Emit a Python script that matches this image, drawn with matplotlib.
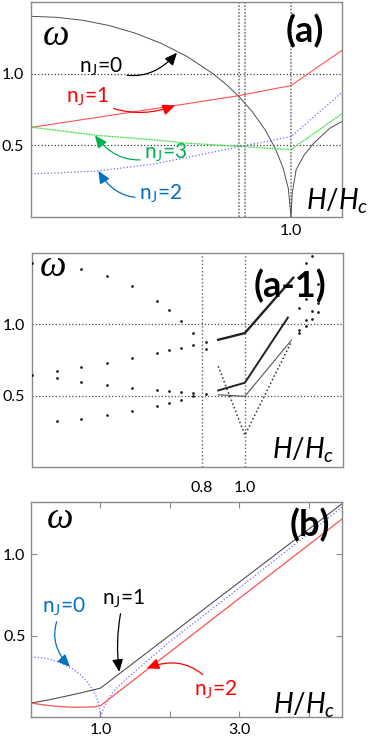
import matplotlib
matplotlib.use("Agg")
import matplotlib.pyplot as plt

plt.rcParams['font.family'] = ['Lato', 'DejaVu Sans']
plt.rcParams['mathtext.fontset'] = 'custom'
plt.rcParams['mathtext.it'] = 'Lato:italic'
plt.rcParams['mathtext.rm'] = 'Lato'

# ---- panel (a): model curves
h0a = [0, 0.1, 0.2, 0.3, 0.4, 0.5, 0.6, 0.7, 0.75, 0.8, 0.85, 0.9, 0.94, 0.97, 0.99, 1.0,
       1.005, 1.02, 1.05, 1.085, 1.12, 1.15, 1.2]
w0a = [1.40, 1.393, 1.372, 1.336, 1.283, 1.212, 1.12, 1.0, 0.926, 0.84, 0.737, 0.61, 0.477,
       0.341, 0.197, 0.0, 0.17, 0.33, 0.43, 0.51, 0.57, 0.62, 0.67]
h1a = [0, 0.2, 0.4, 0.6, 0.8, 1.0, 1.2]
w1a = [0.625, 0.68, 0.735, 0.79, 0.847, 0.917, 1.167]
h2a = [0, 0.25, 0.46, 0.6, 0.8, 1.0, 1.2]
w2a = [0.30, 0.32, 0.366, 0.415, 0.49, 0.56, 0.875]
h3a = [0, 0.25, 0.46, 0.6, 0.8, 1.0, 1.2]
w3a = [0.627, 0.57, 0.54, 0.515, 0.493, 0.47, 0.725]
vlines_a = [0.8, 0.823, 1.0]

# ---- panel (a-1): numerical points
dot_h = [0.012, 0.012,
         0.127, 0.127, 0.127,
         0.24, 0.24, 0.24, 0.24,
         0.357, 0.357, 0.357, 0.357,
         0.474, 0.474, 0.474, 0.474,
         0.589, 0.589, 0.589, 0.589,
         0.647, 0.647, 0.647, 0.647,
         0.702, 0.702, 0.702, 0.702,
         0.761, 0.761, 0.761, 0.761,
         0.82, 0.82, 0.82,
         1.31, 1.284, 1.341, 1.284, 1.338, 1.251, 1.31, 1.341, 1.31, 1.284, 1.284, 1.251, 1.251]
dot_w = [1.427, 0.647,
         0.677, 0.624, 0.325,
         1.388, 0.70, 0.598, 0.342,
         1.339, 0.733, 0.577, 0.367,
         1.265, 0.766, 0.557, 0.395,
         1.161, 0.80, 0.538, 0.428,
         1.098, 0.818, 0.533, 0.45,
         1.024, 0.837, 0.526, 0.473,
         0.936, 0.855, 0.517, 0.497,
         0.876, 0.829, 0.512,
         1.48, 1.43, 1.283, 1.175, 1.151, 1.117, 1.094, 1.089, 1.036, 1.029, 0.99, 0.96, 0.936]
up_h = [0.876, 0.93, 1.0, 1.225]
up_w = [0.892, 0.912, 0.939, 1.325]
mid_h = [0.876, 1.0, 1.2]
mid_w = [0.538, 0.592, 1.047]
low_h = [0.876, 1.0, 1.217]
low_w = [0.508, 0.497, 0.89]
v_h = [0.876, 1.0, 1.217]
v_w = [0.707, 0.226, 0.88]

# ---- panel (b)
h0b = [0, 0.2, 0.4, 0.6, 0.7, 0.8, 0.9, 0.95, 0.98, 1.0]
w0b = [0.37, 0.3625, 0.339, 0.296, 0.264, 0.222, 0.161, 0.116, 0.074, 0.0]
h0b_hi = [1.0, 1.05, 1.1, 1.2, 1.4, 2.0, 3.0, 4.0, 4.5]
w0b_hi = [0.0, 0.06, 0.10, 0.165, 0.245, 0.465, 0.795, 1.13, 1.30]
h1b = [0, 0.25, 0.5, 0.75, 1.0, 4.5]
w1b = [0.086, 0.105, 0.128, 0.152, 0.178, 1.32]
h2b = [0, 0.3, 0.6, 0.9, 1.0, 4.5]
w2b = [0.086, 0.068, 0.06, 0.062, 0.07, 1.226]

RED = '#ff0000'
GREEN = '#00b050'
BLUE = '#0070c0'
SPINE = '#8a8a8a'

fig = plt.figure(figsize=(3.71, 7.37), dpi=100)
axa = fig.add_axes([0.0836, 0.7056, 0.838, 0.2917])
axc = fig.add_axes([0.0863, 0.3657, 0.838, 0.2914])
axb = fig.add_axes([0.0836, 0.0271, 0.839, 0.2922])

for ax in (axa, axc, axb):
    for s in ax.spines.values():
        s.set_color(SPINE)
        s.set_linewidth(1.0)
    ax.tick_params(labelsize=11.5, colors='black')


def omega(ax, x, y):
    ax.text(x, y, 'ω', transform=ax.transAxes, ha='center', va='center',
            fontsize=27, family='Liberation Serif', style='italic')


def hhc(ax, x, y):
    ax.text(x, y, r'$H/H_c$', transform=ax.transAxes, ha='center', va='center',
            fontsize=20, clip_on=False)


def label(ax, s, xy, xyt, c, rad):
    ax.annotate(s, xy=xy, xytext=xyt, color=c, fontsize=15, ha='center', va='center',
                arrowprops=dict(arrowstyle='-|>,head_length=0.5,head_width=0.22', color=c,
                                lw=0.9, shrinkA=1, shrinkB=0,
                                connectionstyle='arc3,rad=%s' % rad))


# (a)
for y in (0.5, 1.0):
    axa.axhline(y, color='#404040', ls=':', lw=0.9)
for x in vlines_a:
    axa.axvline(x, color='#7a7a7a', ls=(0, (1, 1)), lw=1.2)
axa.plot(h0a, w0a, color='#505050', lw=0.7)
axa.plot(h1a, w1a, color='#ff5050', lw=0.8)
axa.plot(h3a, w3a, color='#3ee03e', lw=0.9, ls=(0, (1.5, 0.6)))
axa.plot(h2a, w2a, color='#6a6aff', lw=0.9, ls=':')
axa.set_xlim(0, 1.196)
axa.set_ylim(0, 1.5)
axa.set_xticks([1.0])
axa.set_xticklabels(['1.0'])
axa.set_yticks([0.5, 1.0])
axa.set_yticklabels(['0.5', '1.0'])
axa.tick_params(length=0, pad=5)
omega(axa, 0.079, 0.842)
axa.text(0.881, 0.863, '(a)', transform=axa.transAxes, ha='center', va='center',
         fontsize=26, fontweight='bold')
hhc(axa, 0.984, 0.074)
label(axa, r'n$_\mathregular{J}$=0', (0.5615, 1.146), (0.269, 1.05), 'black', 0.4)
label(axa, r'n$_\mathregular{J}$=1', (0.554, 0.778), (0.219, 0.84), RED, 0.25)
label(axa, r'n$_\mathregular{J}$=3', (0.246, 0.569), (0.519, 0.445), GREEN, -0.4)
label(axa, r'n$_\mathregular{J}$=2', (0.259, 0.322), (0.50, 0.16), BLUE, -0.4)

# (a-1)
for y in (0.5, 1.0):
    axc.axhline(y, color='#505050', ls=':', lw=0.9)
for x in (0.8, 1.0):
    axc.axvline(x, color='#606060', ls=':', lw=1.0)
axc.scatter(dot_h, dot_w, s=4, color='#222222', linewidths=0, zorder=3)
axc.plot(up_h, up_w, color='#222222', lw=1.7)
axc.plot(mid_h, mid_w, color='#222222', lw=1.4)
axc.plot(low_h, low_w, color='#555555', lw=0.8)
axc.plot(v_h, v_w, color='#333333', lw=1.1, ls=(0, (1, 1.6)))
axc.set_xlim(0.01, 1.456)
axc.set_ylim(0, 1.5)
axc.set_xticks([0.8, 1.0])
axc.set_xticklabels(['0.8', '1.0'])
axc.set_yticks([0.5, 1.0])
axc.set_yticklabels(['0.5', '1.0'])
axc.tick_params(length=0, pad=5)
axc.tick_params(axis='x', pad=10)
omega(axc, 0.066, 0.936)
axc.text(0.83, 0.845, '(a-1)', transform=axc.transAxes, ha='center', va='center',
         fontsize=26, fontweight='bold')
hhc(axc, 0.871, 0.081)

# (b)
axb.plot(h0b, w0b, color='#6a6aff', lw=0.9, ls=':')
axb.plot(h0b_hi, w0b_hi, color='#6a6aff', lw=0.9, ls=':')
axb.plot(h1b, w1b, color='#505050', lw=0.8)
axb.plot(h2b, w2b, color='#ff5050', lw=0.9)
axb.set_xlim(0, 4.48)
axb.set_ylim(0, 1.325)
axb.set_xticks([1.0, 2.0, 3.0, 4.0])
axb.set_xticklabels(['1.0', '', '3.0', ''])
axb.set_yticks([0.5, 1.0])
axb.set_yticklabels(['0.5', '1.0'])
axb.tick_params(direction='in', length=4, color=SPINE, top=True, right=True, pad=4)
omega(axb, 0.093, 0.92)
axb.text(0.896, 0.89, '(b)', transform=axb.transAxes, ha='center', va='center',
         fontsize=26, fontweight='bold')
hhc(axb, 0.877, 0.057)
label(axb, r'n$_\mathregular{J}$=0', (0.561, 0.309), (0.475, 0.68), BLUE, 0.4)
label(axb, r'n$_\mathregular{J}$=1', (1.27, 0.278), (1.338, 0.73), 'black', 0.1)
label(axb, r'n$_\mathregular{J}$=2', (1.665, 0.299), (2.66, 0.17), RED, 0.4)

fig.savefig('out.png', dpi=100)
